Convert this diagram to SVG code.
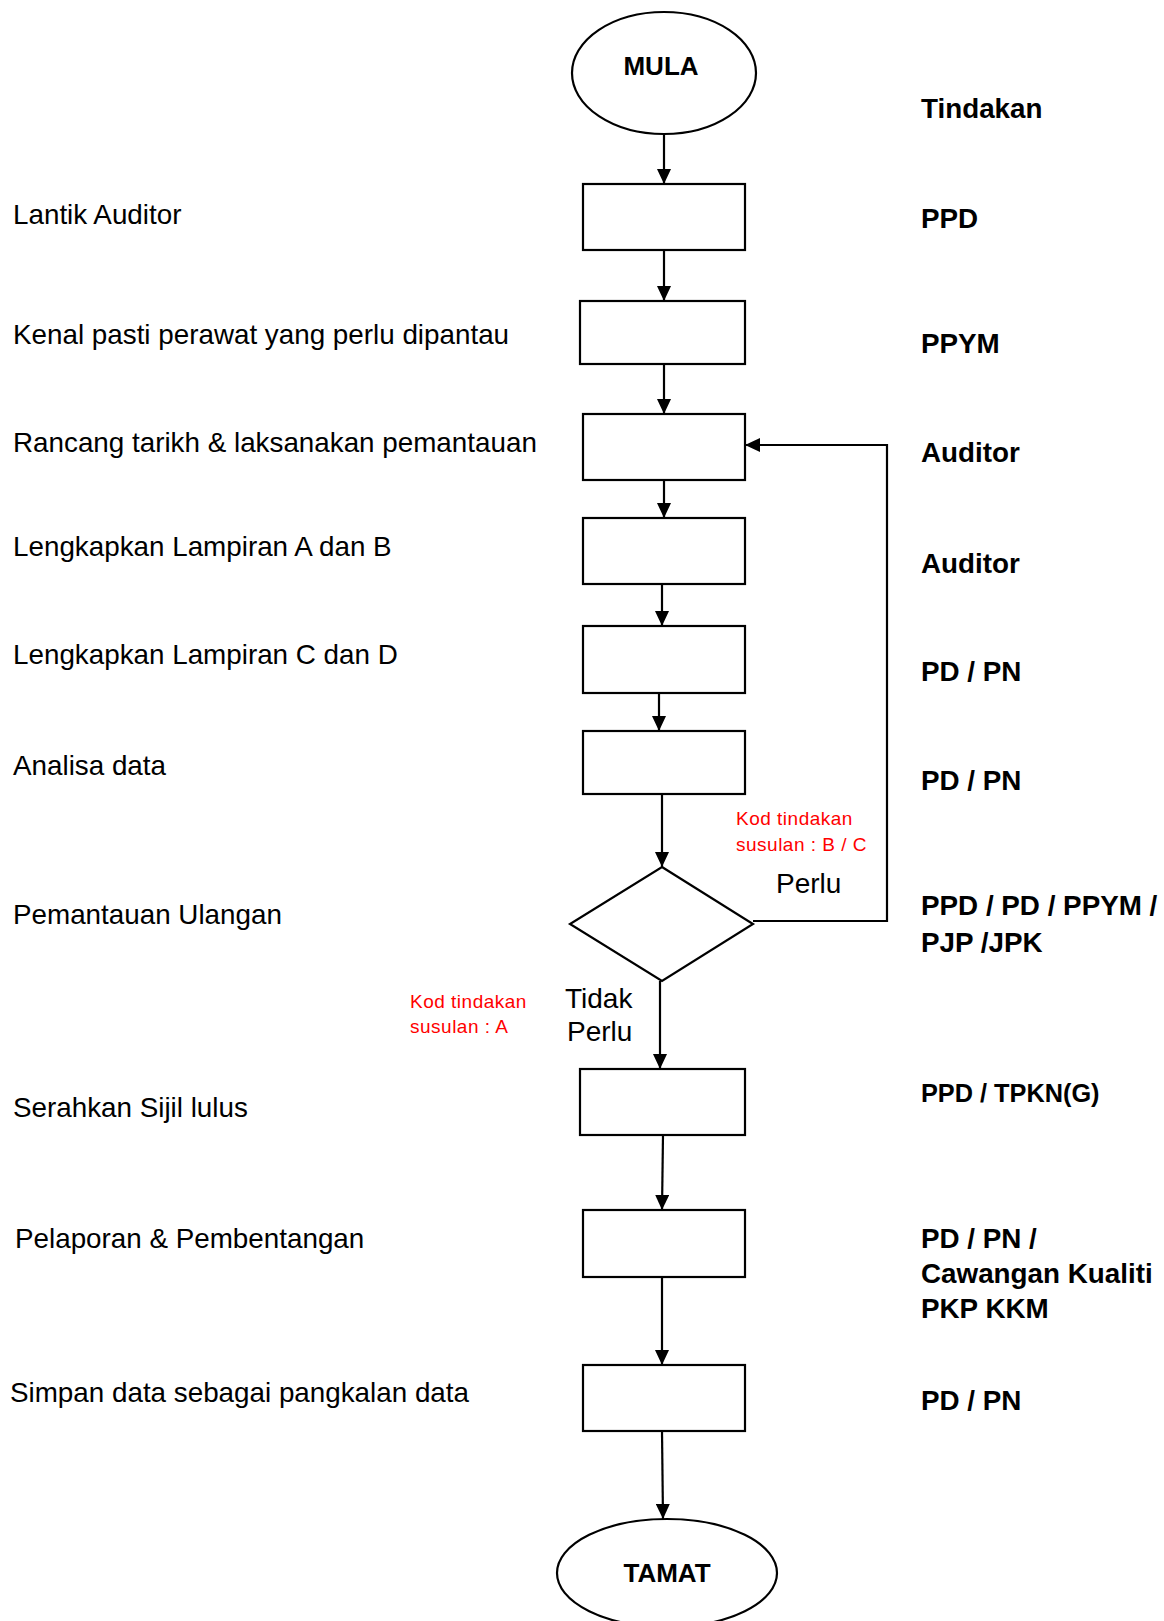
<svg xmlns="http://www.w3.org/2000/svg" width="1164" height="1621" viewBox="0 0 1164 1621">
<style>
.shape{fill:#fff;stroke:#000;stroke-width:2.2}
.ln{fill:none;stroke:#000;stroke-width:2.2}
.lt{font-family:"Liberation Sans",Arial,sans-serif;font-size:27.8px;fill:#000}
.rt{font-family:"Liberation Sans",Arial,sans-serif;font-size:27.8px;font-weight:bold;fill:#000}
.term{font-family:"Liberation Sans",Arial,sans-serif;font-size:26px;font-weight:bold;fill:#000;text-anchor:middle}
.red{font-family:"Liberation Sans",Arial,sans-serif;font-size:19px;letter-spacing:0.5px;fill:#ff0000}
.lab{font-family:"Liberation Sans",Arial,sans-serif;font-size:28px;fill:#000}
</style>
<defs>
<marker id="ah" viewBox="0 0 15 14" refX="15" refY="7" markerWidth="15" markerHeight="14" markerUnits="userSpaceOnUse" orient="auto">
<path d="M0,0 L15,7 L0,14 z" fill="#000"/>
</marker>
</defs>
<rect width="1164" height="1621" fill="#fff"/>

<g id="connectors">
<line class="ln" x1="664" y1="134" x2="664" y2="184" marker-end="url(#ah)"/>
<line class="ln" x1="664" y1="250" x2="664" y2="301" marker-end="url(#ah)"/>
<line class="ln" x1="664" y1="364" x2="664" y2="414" marker-end="url(#ah)"/>
<line class="ln" x1="664" y1="480" x2="664" y2="518" marker-end="url(#ah)"/>
<line class="ln" x1="662" y1="584" x2="662" y2="626" marker-end="url(#ah)"/>
<line class="ln" x1="659" y1="693" x2="659" y2="731" marker-end="url(#ah)"/>
<line class="ln" x1="662" y1="794" x2="662" y2="867" marker-end="url(#ah)"/>
<line class="ln" x1="660" y1="981" x2="660" y2="1069" marker-end="url(#ah)"/>
<line class="ln" x1="663" y1="1135" x2="662" y2="1210" marker-end="url(#ah)"/>
<line class="ln" x1="662" y1="1277" x2="662" y2="1365" marker-end="url(#ah)"/>
<line class="ln" x1="662" y1="1431" x2="663" y2="1519" marker-end="url(#ah)"/>
<polyline class="ln" points="753,921 887,921 887,445 745,445" marker-end="url(#ah)"/>
</g>

<g id="mula"><ellipse class="shape" cx="664" cy="73" rx="92" ry="61"/><text class="term" x="661" y="75">MULA</text></g>
<g id="box1"><rect class="shape" x="583" y="184" width="162" height="66"/></g>
<g id="box2"><rect class="shape" x="580" y="301" width="165" height="63"/></g>
<g id="box3"><rect class="shape" x="583" y="414" width="162" height="66"/></g>
<g id="box4"><rect class="shape" x="583" y="518" width="162" height="66"/></g>
<g id="box5"><rect class="shape" x="583" y="626" width="162" height="67"/></g>
<g id="box6"><rect class="shape" x="583" y="731" width="162" height="63"/></g>
<g id="decision"><polygon class="shape" points="662,867 753,924 662,981 570,924"/></g>
<g id="box7"><rect class="shape" x="580" y="1069" width="165" height="66"/></g>
<g id="box8"><rect class="shape" x="583" y="1210" width="162" height="67"/></g>
<g id="box9"><rect class="shape" x="583" y="1365" width="162" height="66"/></g>
<g id="tamat"><ellipse class="shape" cx="667" cy="1573" rx="110" ry="54"/><text class="term" x="667" y="1582">TAMAT</text></g>

<g id="left-labels">
<text class="lt" x="13" y="224">Lantik Auditor</text>
<text class="lt" x="13" y="344">Kenal pasti perawat yang perlu dipantau</text>
<text class="lt" x="13" y="452">Rancang tarikh &amp; laksanakan pemantauan</text>
<text class="lt" x="13" y="556">Lengkapkan Lampiran A dan B</text>
<text class="lt" x="13" y="664">Lengkapkan Lampiran C dan D</text>
<text class="lt" x="13" y="775">Analisa data</text>
<text class="lt" x="13" y="924">Pemantauan Ulangan</text>
<text class="lt" x="13" y="1117">Serahkan Sijil lulus</text>
<text class="lt" x="15" y="1248">Pelaporan &amp; Pembentangan</text>
<text class="lt" x="10" y="1402">Simpan data sebagai pangkalan data</text>
</g>

<g id="right-labels">
<text class="rt" x="921" y="118">Tindakan</text>
<text class="rt" x="921" y="228">PPD</text>
<text class="rt" x="921" y="353">PPYM</text>
<text class="rt" x="921" y="462">Auditor</text>
<text class="rt" x="921" y="573">Auditor</text>
<text class="rt" x="921" y="681">PD / PN</text>
<text class="rt" x="921" y="790">PD / PN</text>
<text class="rt" x="921" y="915">PPD / PD / PPYM /</text>
<text class="rt" x="921" y="952">PJP /JPK</text>
<text class="rt" x="921" y="1102" style="font-size:25.3px">PPD / TPKN(G)</text>
<text class="rt" x="921" y="1248">PD / PN /</text>
<text class="rt" x="921" y="1283">Cawangan Kualiti</text>
<text class="rt" x="921" y="1318">PKP KKM</text>
<text class="rt" x="921" y="1410">PD / PN</text>
</g>

<g id="flow-labels">
<text class="red" x="736" y="825">Kod tindakan</text>
<text class="red" x="736" y="851">susulan : B / C</text>
<text class="lab" x="776" y="893">Perlu</text>
<text class="red" x="410" y="1008">Kod tindakan</text>
<text class="red" x="410" y="1033">susulan : A</text>
<text class="lab" x="565" y="1008">Tidak</text>
<text class="lab" x="567" y="1041">Perlu</text>
</g>
</svg>
